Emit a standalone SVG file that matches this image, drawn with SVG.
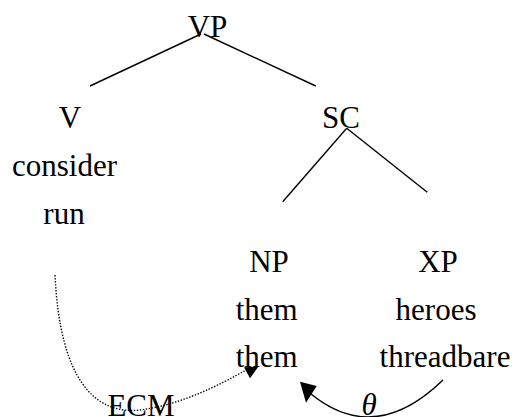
<svg xmlns="http://www.w3.org/2000/svg" width="515" height="417" viewBox="0 0 515 417">
<rect width="515" height="417" fill="#fff"/>
<g id="connectors" stroke="#000" stroke-width="1.4" fill="none">
<line x1="201" y1="34" x2="90" y2="86"/>
<line x1="204" y1="34" x2="315.7" y2="86"/>
<line x1="346.7" y1="128.3" x2="282.7" y2="201.7"/>
<line x1="346.7" y1="128.3" x2="427.3" y2="192.3"/>
<path stroke-dasharray="1.4 1.6" d="M55,275 C60,380 95,415 140,410 C180,405 220,385 246,370"/>
<polygon points="244,367.3 258.3,366.7 250,378.3" fill="#000" stroke="none"/>
<path d="M443,380 Q375,446 311,394"/>
<polygon points="300,381.7 316.7,386 306,402.7" fill="#000" stroke="none"/>
</g>
<g id="VP"><text style="font-family:'Liberation Serif',serif !important;font-size:31px" text-anchor="middle" x="207.5" y="36.5">VP</text></g>
<g id="V"><text font-family="Times New Roman" font-size="31" text-anchor="middle" x="70" y="127.5">V</text><text font-family="Times New Roman" font-size="31" text-anchor="middle" x="64.5" y="175.5">consider</text><text font-family="Times New Roman" font-size="31" text-anchor="middle" x="64" y="224">run</text></g>
<g id="SC"><text font-family="serif" font-size="31" text-anchor="middle" x="341" y="127.5">SC</text></g>
<g id="NP"><text font-family="Liberation Serif" font-size="31" x="249.2" y="271.5">NP</text><text font-family="Liberation Serif" font-size="31" x="235.7" y="320">them</text><text font-family="Liberation Serif" font-size="31" x="235.7" y="366.5">them</text></g>
<g id="XP"><text style="font-family:'Liberation Serif',serif !important;font-size:31px" text-anchor="middle" x="438" y="271.5">XP</text><text style="font-family:'Liberation Serif',serif !important;font-size:31px" text-anchor="middle" x="436" y="320">heroes</text><text style="font-family:'Liberation Serif',serif !important;font-size:31px" text-anchor="middle" x="445" y="366.5">threadbare</text></g>
<g id="ECM"><text font-family="Times New Roman" font-size="31" text-anchor="middle" x="141" y="415.5">ECM</text></g>
<g id="theta"><text font-family="Times New Roman" font-size="31" text-anchor="middle" font-style="italic" x="369" y="415">θ</text></g>
</svg>
